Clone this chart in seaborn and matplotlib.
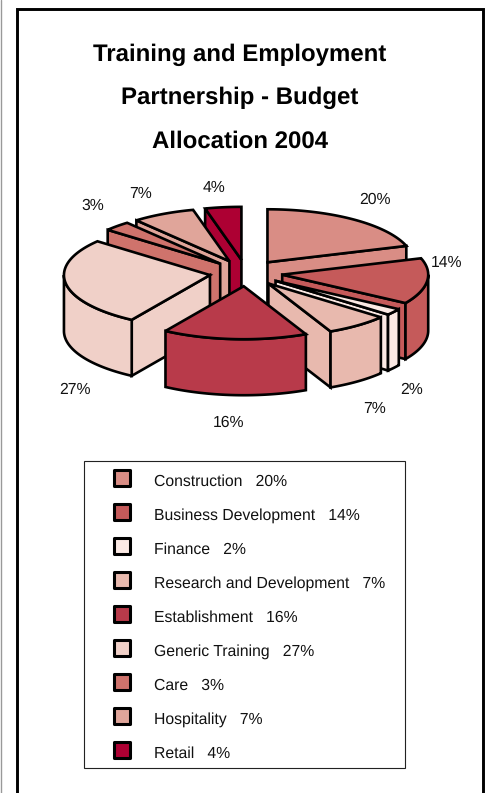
import numpy as np
import pandas as pd
import matplotlib
matplotlib.use('Agg')
import matplotlib.pyplot as plt
from matplotlib.patches import Polygon, Rectangle
import seaborn as sns

categories = ['Construction', 'Business Development', 'Finance', 'Research and Development',
              'Establishment', 'Generic Training', 'Care', 'Hospitality', 'Retail']
values = [20, 14, 2, 7, 16, 27, 3, 7, 4]
colors = ['#D98D85', '#C55A5A', '#FBE9E4', '#E8B9AE', '#B83A4A',
          '#F0D0C8', '#CF736C', '#E0A59A', '#AD0033']
title_lines = ['Training and Employment', 'Partnership - Budget', 'Allocation 2004']

sns.set_theme(style='white')
plt.rcParams['font.family'] = ['Liberation Sans', 'DejaVu Sans']
plt.rcParams['text.hinting'] = 'no_hinting'

# geometry of the tilted pie, in pixels
cx, cy = 246, 273
rx, ry = 146, 53
depth = 56
explode = 0.25
lw = 1.9

# percent label anchors, same order as categories
label_pos = [(375, 200), (447, 263), (412, 390), (375, 409), (229, 423),
             (75, 390), (93, 206), (141, 194), (214, 188)]

fig = plt.figure(figsize=(4.88, 7.93), dpi=100)
ax = fig.add_axes([0, 0, 1, 1])
ax.set_xlim(0, 488)
ax.set_ylim(793, 0)
ax.axis('off')


def px(ang, ox, oy, r=1.0):
    return ox + r * rx * np.sin(ang), oy - r * ry * np.cos(ang)


def face(points, color, z):
    ax.add_patch(Polygon(points, closed=True, facecolor=color, edgecolor='black',
                         linewidth=lw, joinstyle='miter', zorder=z))


# outer frame, open at the bottom, plus the thin grey line at the far left
ax.plot([16.5, 16.5, 483, 483], [793, 8.5, 8.5, 793], color='black', linewidth=2.1,
        solid_joinstyle='miter')
ax.plot([0.5, 0.5], [0, 793], color='#999999', linewidth=1.0)

for i, line in enumerate(title_lines):
    ax.text(240, 54.5 + i * 43.5, line, ha='center', va='center', fontsize=17.3,
            fontweight='bold', color='black')

# slice angles from the values
fracs = np.array(values) / sum(values)
ends = np.cumsum(fracs) * 2 * np.pi
starts = ends - fracs * 2 * np.pi
mids = (starts + ends) / 2

# back slices first
order = np.argsort(-np.cos(mids))
z = 3
for i in order:
    a0, a1 = starts[i], ends[i]
    ox, oy = px(mids[i], cx, cy, explode)
    arc = np.linspace(a0, a1, 60)
    top = [(ox, oy)] + [px(a, ox, oy) for a in arc]

    # walls first, then the top
    if a0 > np.pi:
        ex, ey = px(a0, ox, oy)
        face([(ox, oy), (ex, ey), (ex, ey + depth), (ox, oy + depth)], colors[i], z)
    if a1 < np.pi:
        ex, ey = px(a1, ox, oy)
        face([(ox, oy), (ex, ey), (ex, ey + depth), (ox, oy + depth)], colors[i], z)
    lo, hi = max(a0, np.pi / 2), min(a1, 3 * np.pi / 2)
    if hi > lo:
        rim = np.linspace(lo, hi, 60)
        edge = [px(a, ox, oy) for a in rim]
        lower = [(x, y + depth) for x, y in edge[::-1]]
        face(edge + lower, colors[i], z)
    face(top, colors[i], z + 0.5)
    z += 1

for (x, y), v in zip(label_pos, values):
    ax.text(x, y, f'{v}%', ha='center', va='center', fontsize=11.3, color='#111111', zorder=30)

# legend box
ax.add_patch(Rectangle((83.5, 460.5), 321.5, 307.5, fill=False, edgecolor='#222222', linewidth=0.8, zorder=20))

rows = 482 + 34 * np.arange(len(categories))
legend_df = pd.DataFrame({'x': 122, 'y': rows - 4, 'name': categories})
sns.scatterplot(data=legend_df, x='x', y='y', hue='name', palette=colors, marker='s', s=135,
                edgecolor='black', linewidth=2.2, legend=False, ax=ax, zorder=25, clip_on=False)
ax.set_xlim(0, 488)
ax.set_ylim(793, 0)
ax.axis('off')

for y, name, v in zip(rows, categories, values):
    ax.text(154, y, f'{name}   {v}%', ha='left', va='center', fontsize=11.3, color='#111111', zorder=30)

fig.savefig('out.png', dpi=100)
